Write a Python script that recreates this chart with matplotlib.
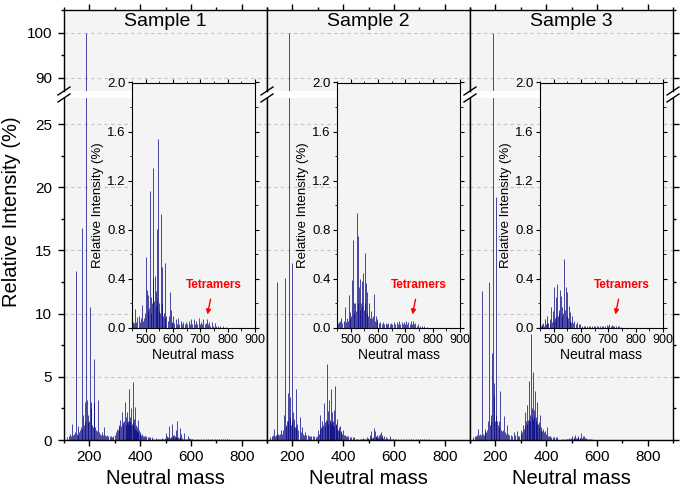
import matplotlib
matplotlib.use('Agg')
import matplotlib.pyplot as plt
from matplotlib.ticker import MultipleLocator, FormatStrFormatter
from matplotlib.lines import Line2D

plt.rcParams['font.family'] = ['Liberation Sans', 'DejaVu Sans']

# (neutral mass, relative intensity %)
s1_monomer = [(112, 0.2), (118, 0.3), (124, 0.5), (128, 0.3), (131, 1.3), (135, 0.4), (138, 0.5), (142, 0.6),
              (146, 13.4), (150, 0.5), (154, 0.4), (157, 1.1), (160, 0.6), (163, 0.8), (166, 1.0), (169, 0.9),
              (172, 16.8), (175, 2.0), (178, 1.2), (181, 1.5), (184, 3.0), (187, 100), (190, 3.2), (193, 2.0),
              (196, 1.4), (199, 1.5), (202, 10.5), (205, 2.5), (208, 3.0), (211, 1.2), (214, 1.0), (217, 2.9),
              (220, 6.4), (223, 1.0), (226, 0.8), (230, 0.7), (234, 3.2), (238, 0.6), (242, 0.5), (246, 0.4),
              (250, 0.6), (254, 0.4), (257, 1.0), (261, 0.4), (265, 0.3), (270, 0.4), (275, 0.3), (280, 0.35),
              (285, 0.3), (290, 0.25), (295, 0.3)]
s1_dimer = [(300, 0.4), (304, 0.6), (308, 0.9), (311, 0.8), (315, 1.2), (318, 1.0), (322, 1.6), (325, 1.1),
            (328, 2.2), (331, 1.3), (334, 1.4), (337, 1.5), (341, 3.0), (343, 1.2), (345, 1.8), (347, 1.4),
            (350, 2.2), (352, 1.3), (354, 1.5), (356, 1.4), (358, 4.0), (360, 1.5), (362, 1.8), (364, 1.2),
            (366, 2.5), (368, 1.3), (370, 4.6), (372, 1.4), (374, 1.7), (376, 1.1), (378, 2.6), (380, 0.9),
            (382, 1.2), (384, 0.8), (386, 1.0), (388, 0.7), (390, 1.6), (392, 0.6), (395, 0.8), (398, 0.5),
            (400, 0.6), (404, 0.4), (408, 0.5), (412, 0.35), (416, 0.35), (420, 0.3), (425, 0.3), (430, 0.25),
            (435, 0.25), (440, 0.2), (445, 0.2)]
s1_trimer = [(452, 0.05), (456, 0.04), (462, 0.155), (466, 0.05), (470, 0.09), (474, 0.10), (478, 0.05),
             (482, 0.08), (487, 0.19), (490, 0.06), (494, 0.08), (497, 0.12), (500, 0.58), (504, 0.31),
             (507, 0.14), (510, 0.27), (512, 0.16), (515, 1.12), (518, 0.12), (520, 0.25), (523, 0.2),
             (526, 1.30), (528, 0.41), (531, 0.22), (533, 0.42), (536, 0.18), (538, 0.30), (541, 0.23),
             (543, 0.81), (544, 1.54), (547, 0.14), (549, 0.20), (552, 0.12), (556, 0.925), (558, 0.2),
             (561, 0.50), (564, 0.1), (566, 0.12), (569, 0.08), (572, 0.53), (576, 0.10), (580, 0.06),
             (584, 0.10), (589, 0.29), (591, 0.15), (595, 0.05), (598, 0.04), (601, 0.10), (605, 0.04),
             (610, 0.07), (614, 0.03), (619, 0.08), (623, 0.03), (628, 0.06), (633, 0.03), (638, 0.05),
             (643, 0.03), (648, 0.05), (653, 0.03), (658, 0.06), (662, 0.03), (667, 0.07), (671, 0.03),
             (676, 0.07), (680, 0.03), (684, 0.06), (689, 0.03), (694, 0.08), (698, 0.03), (703, 0.05),
             (707, 0.03), (711, 0.07), (716, 0.03), (720, 0.04), (725, 0.07), (729, 0.03), (733, 0.05),
             (737, 0.02), (741, 0.05), (746, 0.02), (752, 0.04), (758, 0.02), (765, 0.02), (772, 0.015),
             (784, 0.015), (795, 0.01)]

s2_monomer = [(112, 0.2), (118, 0.3), (122, 0.4), (126, 0.85), (130, 0.3), (134, 0.4), (138, 0.5), (141, 12.5),
              (145, 0.5), (149, 0.4), (153, 0.5), (157, 0.8), (160, 0.5), (164, 0.8), (167, 2.0), (170, 12.8),
              (173, 1.0), (176, 1.2), (179, 1.5), (181, 3.7), (184, 1.5), (186, 100), (189, 3.4), (192, 1.8),
              (195, 1.2), (197, 14.0), (200, 1.5), (202, 2.2), (205, 1.0), (207, 1.7), (210, 1.0), (213, 4.0),
              (216, 1.0), (220, 1.3), (224, 0.8), (229, 1.8), (233, 0.6), (238, 1.0), (242, 0.5), (246, 0.4),
              (250, 0.6), (255, 0.4), (260, 0.4), (265, 0.3), (270, 0.35), (275, 0.3), (280, 0.3), (286, 0.3),
              (292, 0.25), (296, 0.3)]
s2_dimer = [(300, 0.8), (303, 0.5), (307, 2.0), (310, 0.9), (312, 1.0), (315, 1.0), (318, 1.5), (321, 1.2),
            (324, 2.9), (327, 1.1), (329, 1.4), (332, 1.6), (336, 6.0), (338, 1.5), (340, 2.3), (342, 1.3),
            (345, 3.2), (347, 1.4), (349, 1.6), (351, 1.3), (353, 4.0), (355, 1.4), (357, 2.2), (359, 1.2),
            (362, 1.5), (364, 1.1), (366, 2.4), (369, 4.3), (371, 1.2), (373, 1.3), (375, 0.9), (377, 1.7),
            (380, 0.8), (382, 1.0), (385, 0.7), (387, 1.1), (390, 0.6), (392, 0.7), (396, 0.5), (399, 0.8),
            (403, 0.4), (407, 0.4), (411, 0.35), (415, 0.3), (420, 0.3), (426, 0.25), (432, 0.25), (438, 0.2),
            (444, 0.2)]
s2_trimer = [(452, 0.04), (456, 0.05), (460, 0.06), (465, 0.08), (469, 0.04), (474, 0.06), (478, 0.17),
             (482, 0.05), (486, 0.08), (490, 0.06), (494, 0.27), (497, 0.08), (499, 0.13), (503, 0.1),
             (506, 0.39), (508, 0.72), (511, 0.2), (513, 0.12), (516, 0.2), (519, 0.14), (523, 0.94),
             (526, 0.75), (528, 0.2), (530, 0.33), (533, 0.15), (535, 0.4), (538, 0.2), (540, 0.38),
             (543, 0.18), (545, 0.45), (548, 0.15), (551, 0.61), (553, 0.2), (555, 0.37), (558, 0.12),
             (561, 0.29), (564, 0.1), (567, 0.2), (570, 0.08), (574, 0.14), (578, 0.08), (581, 0.1),
             (584, 0.28), (588, 0.06), (591, 0.1), (595, 0.05), (598, 0.07), (603, 0.04), (608, 0.05),
             (613, 0.03), (618, 0.05), (623, 0.03), (628, 0.04), (633, 0.03), (638, 0.04), (643, 0.03),
             (648, 0.04), (653, 0.03), (658, 0.05), (663, 0.03), (668, 0.05), (672, 0.03), (677, 0.06),
             (681, 0.03), (686, 0.05), (690, 0.03), (695, 0.05), (699, 0.03), (703, 0.06), (707, 0.03),
             (711, 0.05), (716, 0.03), (720, 0.06), (724, 0.03), (728, 0.06), (733, 0.03), (737, 0.04),
             (742, 0.02), (748, 0.03), (755, 0.02), (762, 0.02), (770, 0.015), (780, 0.01)]

s3_monomer = [(112, 0.2), (118, 0.3), (123, 0.3), (128, 0.4), (133, 0.9), (137, 0.4), (141, 0.5), (144, 0.4),
              (147, 11.8), (151, 0.5), (155, 0.4), (158, 0.6), (161, 0.9), (165, 0.6), (168, 0.8), (172, 1.5),
              (176, 12.5), (179, 1.2), (182, 1.5), (184, 2.0), (187, 6.9), (191, 100), (194, 3.6), (196, 4.5),
              (199, 1.5), (201, 2.0), (204, 19.2), (207, 1.5), (210, 1.2), (213, 1.0), (216, 1.5), (220, 3.9),
              (223, 0.8), (227, 0.7), (230, 0.8), (233, 1.9), (237, 0.6), (241, 0.5), (246, 1.2), (250, 0.5),
              (255, 0.4), (260, 0.4), (265, 0.35), (272, 0.6), (278, 0.4), (285, 0.7), (290, 0.3), (295, 0.35)]
s3_dimer = [(300, 0.5), (302, 0.8), (306, 0.6), (310, 1.2), (313, 0.9), (315, 2.2), (318, 1.1), (320, 1.5),
            (323, 2.8), (326, 1.3), (328, 1.6), (331, 4.7), (333, 1.6), (336, 2.0), (338, 1.5), (341, 8.4),
            (343, 1.8), (345, 2.5), (347, 1.6), (350, 5.4), (352, 1.8), (354, 2.4), (357, 3.9), (359, 1.5),
            (361, 1.8), (363, 1.3), (366, 3.0), (368, 1.3), (370, 1.4), (373, 1.0), (375, 2.0), (378, 0.8),
            (381, 1.0), (384, 0.7), (387, 0.9), (390, 0.6), (394, 0.7), (398, 0.5), (402, 1.0), (406, 0.35),
            (410, 0.3), (415, 0.3), (420, 0.25), (426, 0.2), (432, 0.25), (438, 0.2), (444, 0.2)]
s3_trimer = [(452, 0.02), (456, 0.03), (459, 0.02), (462, 0.04), (465, 0.02), (468, 0.07), (471, 0.03),
             (474, 0.04), (477, 0.10), (481, 0.04), (485, 0.07), (488, 0.03), (491, 0.17), (494, 0.05),
             (497, 0.14), (500, 0.06), (503, 0.33), (506, 0.08), (508, 0.25), (510, 0.1), (512, 0.36),
             (515, 0.1), (518, 0.15), (521, 0.12), (524, 0.31), (527, 0.26), (530, 0.1), (532, 0.17),
             (535, 0.12), (539, 0.56), (541, 0.15), (544, 0.33), (547, 0.1), (549, 0.29), (552, 0.08),
             (555, 0.18), (558, 0.13), (561, 0.06), (564, 0.05), (567, 0.10), (571, 0.04), (576, 0.06),
             (581, 0.03), (586, 0.05), (591, 0.03), (598, 0.03), (604, 0.02), (610, 0.02), (616, 0.015),
             (622, 0.02), (628, 0.015), (634, 0.02), (640, 0.015), (646, 0.02), (652, 0.015), (658, 0.02),
             (664, 0.015), (670, 0.02), (676, 0.015), (682, 0.02), (688, 0.02), (694, 0.025), (699, 0.02),
             (703, 0.03), (708, 0.02), (712, 0.025), (717, 0.02), (722, 0.02), (728, 0.015), (734, 0.02),
             (740, 0.015), (748, 0.01)]

samples = ['Sample 1', 'Sample 2', 'Sample 3']
spectra = [s1_monomer + s1_dimer + s1_trimer,
           s2_monomer + s2_dimer + s2_trimer,
           s3_monomer + s3_dimer + s3_trimer]

W, H = 685, 499
fig = plt.figure(figsize=(W / 100, H / 100), dpi=100)


def px(x0, y0, x1, y1):
    # pixel box (top-left origin) -> figure rect
    return [x0 / W, 1 - y1 / H, (x1 - x0) / W, (y1 - y0) / H]


bar_color = '#000080'
bg = '#f4f4f4'
panel_left = [64, 267, 470]
panel_w = 203
inset_left = [132, 337, 540]

for i in range(3):
    mass = [p[0] for p in spectra[i]]
    inten = [p[1] for p in spectra[i]]
    x0 = panel_left[i]
    ax_top = fig.add_axes(px(x0, 10, x0 + panel_w, 91))
    ax_bot = fig.add_axes(px(x0, 98, x0 + panel_w, 440))
    for ax in (ax_top, ax_bot):
        ax.set_facecolor(bg)
        ax.vlines(mass, 0, inten, color=bar_color, lw=0.5)
        ax.set_xlim(100, 900)
        ax.xaxis.set_major_locator(MultipleLocator(200))
        ax.xaxis.set_minor_locator(MultipleLocator(100))
        ax.grid(axis='y', color='#c4c4c4', lw=0.8, ls=(0, (3, 3)))
        ax.set_axisbelow(True)
        ax.tick_params(which='both', direction='out', width=1, labelsize=11)
        ax.tick_params(which='major', length=4.5)
        ax.tick_params(which='minor', length=2.5)
        ax.tick_params(axis='y', which='both', left=(i == 0), right=(i == 2),
                       labelleft=(i == 0), labelright=False, pad=4)
        for s in ax.spines.values():
            s.set_linewidth(1)

    ax_top.set_ylim(87.1, 105.1)
    ax_top.yaxis.set_major_locator(MultipleLocator(10))
    ax_top.yaxis.set_minor_locator(MultipleLocator(5))
    ax_top.spines['bottom'].set_visible(False)
    ax_top.tick_params(axis='x', which='both', top=True, bottom=False, labelbottom=False, labeltop=False)

    ax_bot.set_ylim(0, 27.06)
    ax_bot.yaxis.set_major_locator(MultipleLocator(5))
    ax_bot.yaxis.set_minor_locator(MultipleLocator(2.5))
    ax_bot.spines['top'].set_visible(False)
    ax_bot.tick_params(axis='x', which='both', top=False, bottom=True, pad=3)

    fig.text((x0 + panel_w / 2) / W, 1 - 21 / H, samples[i], ha='center', va='center', fontsize=14)
    fig.text((x0 + panel_w / 2) / W, 1 - 478 / H, 'Neutral mass', ha='center', va='center', fontsize=14.5)

    # inset: trimer / tetramer region
    ax_in = fig.add_axes(px(inset_left[i], 82.5, inset_left[i] + 123, 328), zorder=5)
    ax_in.set_facecolor(bg)
    ax_in.vlines(mass, 0, inten, color=bar_color, lw=0.5)
    ax_in.set_xlim(450, 900)
    ax_in.set_ylim(0, 2.0)
    ax_in.xaxis.set_major_locator(MultipleLocator(100))
    ax_in.xaxis.set_minor_locator(MultipleLocator(50))
    ax_in.yaxis.set_major_locator(MultipleLocator(0.4))
    ax_in.yaxis.set_minor_locator(MultipleLocator(0.2))
    ax_in.yaxis.set_major_formatter(FormatStrFormatter('%.1f'))
    ax_in.tick_params(which='both', direction='out', top=True, right=True, pad=1.5)
    ax_in.tick_params(axis='x', labelsize=9)
    ax_in.tick_params(axis='y', labelsize=9.5)
    ax_in.tick_params(which='major', length=3)
    ax_in.tick_params(which='minor', length=1.8)
    ax_in.set_xlabel('Neutral mass', fontsize=10, labelpad=1)
    ax_in.set_ylabel('Relative Intensity (%)', fontsize=9.5, labelpad=2)
    ax_in.annotate('Tetramers', xy=(726, 0.11), xytext=(748, 0.35), color='red', fontweight='bold',
                   fontsize=8.5, ha='center', va='center',
                   arrowprops=dict(arrowstyle='-|>', color='red', lw=1.0, shrinkA=4, shrinkB=0,
                                   mutation_scale=7))

fig.text(12 / W, 1 - 212 / H, 'Relative Intensity (%)', rotation=90, ha='center', va='center', fontsize=14.5)

# axis break marks
for xs in [64, 267, 470, 673]:
    for yb in [91, 98]:
        fig.add_artist(Line2D([(xs - 6) / W, (xs + 6) / W], [1 - (yb + 4) / H, 1 - (yb - 4) / H],
                              color='k', lw=1))

fig.savefig('out.png', dpi=100)
